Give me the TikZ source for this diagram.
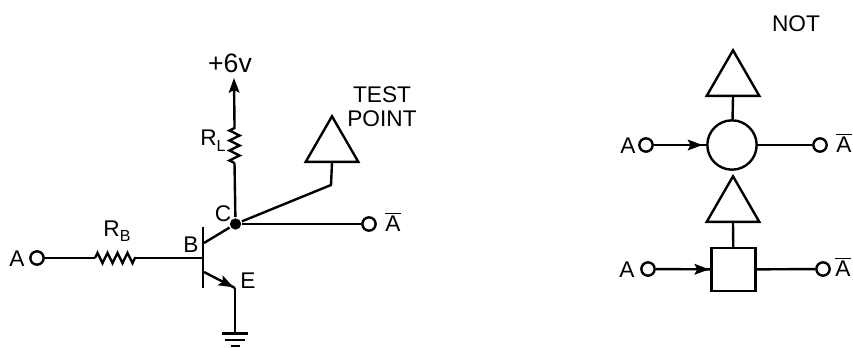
\documentclass[tikz,border=0pt]{standalone}
\usepackage{fontspec}
\setmainfont{Liberation Sans}
\usepackage{tikz}
\usetikzlibrary{arrows.meta,shapes.geometric,decorations.pathmorphing,decorations.markings}

\begin{document}
\begin{tikzpicture}[> = {Stealth[length=11pt,width=8pt,inset=2pt]}, % arrow head style
	x=.75pt,y=-.75pt,
	line width=1.8pt,
	every node/.style={inner sep=0pt,font=\fontsize{17}{18}\selectfont},
	terminal/.style={circle,draw,fill=white,minimum size=10pt},
	testtri/.style={regular polygon,regular polygon sides=3,draw,minimum size=45.5pt,anchor=south},
	resistor/.style={decorate,decoration={zigzag,amplitude=3.8pt,segment length=7.5pt}},
	midarrow/.style={postaction={decorate},decoration={markings,mark=at position #1 with {\arrow{>}}}}]
	\useasboundingbox (0,0) rectangle (853,347);

	% transistor circuit
	\node (ain) at (37,258) [terminal] {};
	\node (alabel) at (17,259) {A};
	\coordinate (rbl) at (95,258);
	\coordinate (rbr) at (136,258);
	\coordinate (base) at (203,258);
	\coordinate (bt) at (203,227);
	\coordinate (bb) at (203,288);
	\coordinate (cfoot) at (204,243);
	\coordinate (efoot) at (204,272);
	\coordinate (ecorner) at (235,288);
	\coordinate (gnd) at (235,334);
	\coordinate (rlb) at (234.5,163);
	\coordinate (rlt) at (234.5,125);
	\coordinate (vcc) at (234,78);
	\coordinate (tpfoot) at (331,185);
	\coordinate (g1l) at (222,333.5);
	\coordinate (g1r) at (248,333.5);
	\coordinate (g2l) at (225,340);
	\coordinate (g2r) at (245,340);
	\coordinate (g3l) at (231,346);
	\coordinate (g3r) at (240,346);
	\node (dot) at (235.5,224) [circle,fill=black,minimum size=8.5pt] {};
	\node (aout) at (369,224) [terminal] {};
	\node (tp) at (332,163) [testtri] {};

	\node (rb) at (117,231) {R\raisebox{-.4ex}{\fontsize{12}{12}\selectfont B}};
	\node (rl) at (213,141) {R\raisebox{-.5ex}{\fontsize{12}{12}\selectfont L}};
	\node (vlabel) at (230,63) {\fontsize{20}{20}\selectfont +6v};
	\node (test) at (382,107) [align=center] {TEST\\POINT};
	\node (b) at (191,245) {B};
	\node (c) at (223,214) {C};
	\node (e) at (248,281) {E};
	\node (abar) at (393,222) {\(\overline{\mbox{A}}\)};

	\draw (ain)--(rbl);
	\draw[resistor] (rbl)--(rbr);
	\draw (rbr)--(base);
	\draw[line width=2.1pt] (bt)--(bb);
	\draw (cfoot)--(dot);
	\draw[midarrow=.95] (efoot)--(ecorner);
	\draw (ecorner)--(gnd);
	\draw (g1l)--(g1r);
	\draw (g2l)--(g2r);
	\draw (g3l)--(g3r);
	\draw (dot)--(rlb);
	\draw[resistor] (rlb)--(rlt);
	\draw[->] (rlt)--(vcc);
	\draw (dot)--(tpfoot)--(tp.south);
	\draw (dot)--(aout);

	% NOT symbols
	\node (nottitle) at (796,24) {NOT};

	\node (circ) at (732,145) [circle,draw,minimum size=37pt] {};
	\node (tri1) at (733,97) [testtri] {};
	\node (a1) at (646,145) [terminal] {};
	\node (a1label) at (628,146) {A};
	\node (o1) at (820,145) [terminal] {};
	\node (o1label) at (844,143) {\(\overline{\mbox{A}}\)};
	\draw[midarrow=.93] (a1)--(circ);
	\draw (circ)--(o1);
	\draw (circ)--(tri1.south);

	\node (sq) at (733.5,269.5) [rectangle,draw,minimum width=33pt,minimum height=32pt] {};
	\node (tri2) at (733,223) [testtri] {};
	\node (a2) at (648,269) [terminal] {};
	\node (a2label) at (627,270) {A};
	\node (o2) at (823,269) [terminal] {};
	\node (o2label) at (843,267) {\(\overline{\mbox{A}}\)};
	\draw[midarrow=.98] (a2)--(sq);
	\draw (sq)--(o2);
	\draw (sq)--(tri2.south);

\end{tikzpicture}
\end{document}
